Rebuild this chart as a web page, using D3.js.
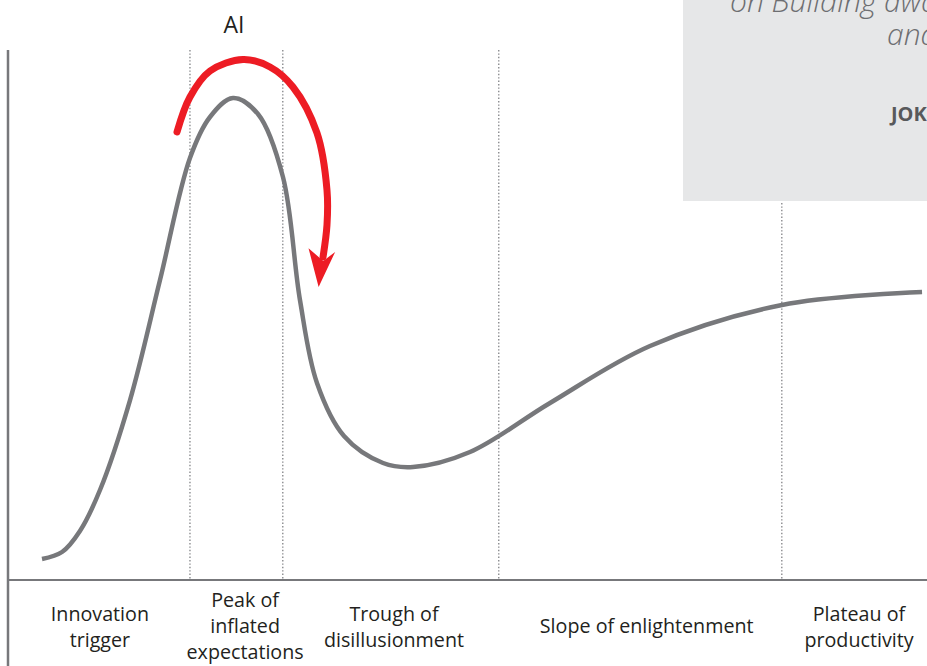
<!DOCTYPE html>
<html>
<head>
<meta charset="utf-8">
<script src="https://cdn.jsdelivr.net/npm/d3@7"></script>
<style>
    html, body { margin: 0; padding: 0; background: #fff; }
    svg { display: block; font-family: "Open Sans", "Noto Sans", sans-serif; }
</style>
</head>
<body>
<div id="chart"></div>
<script>
// hype cycle curve, x = time (0-100), y = expectations (0-100)
const curveX = [3.70, 5.88, 7.83, 10.01, 13.28, 16.54, 19.80, 21.98, 24.48, 27.20, 29.92, 31.77, 33.62, 36.56, 40.81, 44.07, 50.27, 58.98, 69.86, 84.22, 99.46];
const curveY = [3.96, 5.28, 9.25, 16.98, 33.96, 56.60, 79.62, 87.36, 90.94, 87.92, 76.04, 52.83, 37.17, 27.17, 22.08, 21.32, 24.15, 33.40, 44.15, 51.89, 54.34];

// phase boundaries (dotted lines) and phase labels
const phaseBounds = [19.8, 29.9, 53.4, 84.2];
const phaseLabels = [
    ["Innovation", "trigger"],
    ["Peak of", "inflated", "expectations"],
    ["Trough of", "disillusionment"],
    ["Slope of enlightenment"],
    ["Plateau of", "productivity"]
];
const phaseCenters = [10.0, 25.8, 42.0, 69.5, 92.6];

// red "AI" arrow over the peak
const arrowX = [18.39, 19.80, 21.98, 25.57, 28.51, 31.01, 33.62, 34.71, 34.71, 34.28];
const arrowY = [84.53, 91.13, 96.04, 98.21, 96.79, 93.02, 84.34, 73.58, 66.98, 60.94];
const arrowHeadX = [33.8, 32.7, 34.3, 35.6];
const arrowHeadY = [55.3, 62.6, 60.2, 61.9];
const arrowLabel = "AI";
const arrowLabelPos = [24.6, 103.2];

const quoteLines = ["on Building awareness", "and"];
const quoteAuthor = "JOK";

const width = 927, height = 666;
const x = d3.scaleLinear().domain([0, 100]).range([8, 927]);
const y = d3.scaleLinear().domain([0, 100]).range([580, 50]);

const svg = d3.select('#chart').append('svg')
    .attr('width', width)
    .attr('height', height);

// dotted phase lines
svg.append('g')
    .selectAll('line')
    .data(phaseBounds)
    .join('line')
    .attr('x1', d => x(d)).attr('x2', d => x(d))
    .attr('y1', y(100)).attr('y2', y(0))
    .attr('stroke', '#8a8b8e')
    .attr('stroke-width', 1.4)
    .attr('stroke-dasharray', '1.4,2');

// quote box (top right), cut by the page edge like the original
svg.append('rect')
    .attr('x', 683).attr('y', 0)
    .attr('width', width - 683).attr('height', 201)
    .attr('fill', '#e6e7e8');

svg.append('g')
    .selectAll('text')
    .data(quoteLines)
    .join('text')
    .attr('x', (d, i) => i === 0 ? 730 : 887)
    .attr('y', (d, i) => 12 + i * 33)
    .attr('font-size', 30)
    .attr('font-style', 'italic')
    .attr('font-weight', 300)
    .attr('fill', '#6d6e71')
    .text(d => d);

svg.append('text')
    .attr('x', 891).attr('y', 121)
    .attr('font-size', 20)
    .attr('font-weight', 700)
    .attr('fill', '#58595b')
    .text(quoteAuthor);

// axes
svg.append('line')
    .attr('x1', x(0)).attr('x2', x(0))
    .attr('y1', y(100)).attr('y2', height)
    .attr('stroke', '#77787b').attr('stroke-width', 2.5);
svg.append('line')
    .attr('x1', x(0)).attr('x2', x(100))
    .attr('y1', y(0)).attr('y2', y(0))
    .attr('stroke', '#77787b').attr('stroke-width', 2);

// hype curve and the arrow share the same smooth line
const line = d3.line()
    .x(d => x(d[0]))
    .y(d => y(d[1]))
    .curve(d3.curveCatmullRom.alpha(0.5));

svg.append('path')
    .datum(d3.zip(curveX, curveY))
    .attr('d', line)
    .attr('fill', 'none')
    .attr('stroke', '#77787b')
    .attr('stroke-width', 4.5);

// AI arrow
svg.append('path')
    .datum(d3.zip(arrowX, arrowY))
    .attr('d', line)
    .attr('fill', 'none')
    .attr('stroke', '#ed1c24')
    .attr('stroke-width', 7)
    .attr('stroke-linecap', 'round');

svg.append('polygon')
    .attr('points', d3.zip(arrowHeadX, arrowHeadY).map(d => [x(d[0]), y(d[1])].join(',')).join(' '))
    .attr('fill', '#ed1c24');

svg.append('text')
    .attr('x', x(arrowLabelPos[0]))
    .attr('y', y(arrowLabelPos[1]))
    .attr('text-anchor', 'middle')
    .attr('font-size', 23)
    .attr('fill', '#231f20')
    .text(arrowLabel);

// phase labels below the axis
const labels = svg.append('g')
    .attr('font-size', 19.7)
    .attr('fill', '#231f20')
    .attr('text-anchor', 'middle');

phaseLabels.forEach((lines, i) => {
    const top = lines.length === 3 ? 607 : (lines.length === 1 ? 633 : 621);
    labels.append('text')
        .attr('x', x(phaseCenters[i]))
        .selectAll('tspan')
        .data(lines)
        .join('tspan')
        .attr('x', x(phaseCenters[i]))
        .attr('y', (d, j) => top + j * 26)
        .text(d => d);
});
</script>
</body>
</html>
